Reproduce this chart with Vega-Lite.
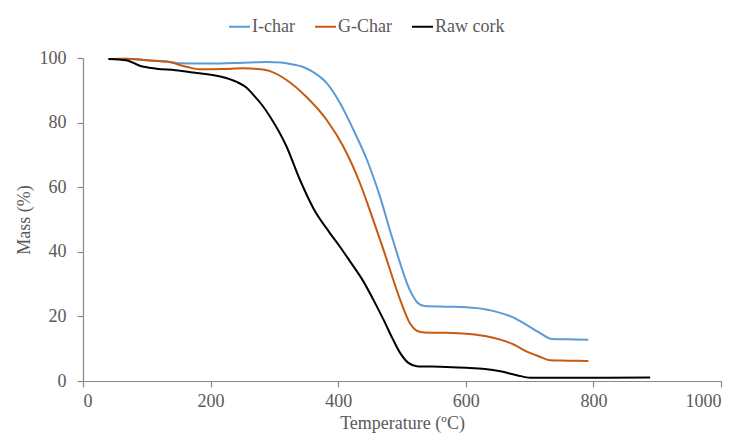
{
  "$schema": "https://vega.github.io/schema/vega-lite/v6.json",
  "width": 638,
  "height": 323,
  "autosize": "none",
  "padding": {"left": 83, "top": 58, "right": 20, "bottom": 60},
  "background": "white",
  "config": {
    "view": {"stroke": null},
    "font": "Liberation Serif",
    "axis": {"grid": false, "domainColor": "#898989", "tickColor": "#898989", "labelColor": "#595959", "titleColor": "#595959", "labelFont": "Liberation Serif", "titleFont": "Liberation Serif", "labelFontSize": 18, "titleFontSize": 18, "titleFontWeight": "normal", "tickSize": 6, "domainWidth": 1.2, "tickWidth": 1.2},
    "legend": {"labelFont": "Liberation Serif"}
  },
  "data": {"values": [
    {"s": "I-char", "t": 40, "m": 99.7},
    {"s": "I-char", "t": 68, "m": 99.8},
    {"s": "I-char", "t": 100, "m": 99.3},
    {"s": "I-char", "t": 131, "m": 98.9},
    {"s": "I-char", "t": 152, "m": 98.4},
    {"s": "I-char", "t": 190, "m": 98.3},
    {"s": "I-char", "t": 225, "m": 98.4},
    {"s": "I-char", "t": 260, "m": 98.6},
    {"s": "I-char", "t": 288, "m": 98.8},
    {"s": "I-char", "t": 310, "m": 98.6},
    {"s": "I-char", "t": 329, "m": 98.0},
    {"s": "I-char", "t": 345, "m": 97.2},
    {"s": "I-char", "t": 361, "m": 95.6},
    {"s": "I-char", "t": 382, "m": 92.2},
    {"s": "I-char", "t": 403, "m": 86.0},
    {"s": "I-char", "t": 424, "m": 77.7},
    {"s": "I-char", "t": 445, "m": 68.5},
    {"s": "I-char", "t": 464, "m": 58.0},
    {"s": "I-char", "t": 486, "m": 43.5},
    {"s": "I-char", "t": 512, "m": 28.3},
    {"s": "I-char", "t": 524, "m": 24.3},
    {"s": "I-char", "t": 535, "m": 23.2},
    {"s": "I-char", "t": 570, "m": 23.0},
    {"s": "I-char", "t": 601, "m": 22.8},
    {"s": "I-char", "t": 630, "m": 22.2},
    {"s": "I-char", "t": 654, "m": 21.1},
    {"s": "I-char", "t": 675, "m": 19.6},
    {"s": "I-char", "t": 690, "m": 18.0},
    {"s": "I-char", "t": 716, "m": 14.9},
    {"s": "I-char", "t": 735, "m": 13.0},
    {"s": "I-char", "t": 760, "m": 12.9},
    {"s": "I-char", "t": 792, "m": 12.8},
    {"s": "G-Char", "t": 40, "m": 99.7},
    {"s": "G-Char", "t": 68, "m": 99.8},
    {"s": "G-Char", "t": 100, "m": 99.3},
    {"s": "G-Char", "t": 131, "m": 98.9},
    {"s": "G-Char", "t": 162, "m": 97.3},
    {"s": "G-Char", "t": 183, "m": 96.5},
    {"s": "G-Char", "t": 220, "m": 96.6},
    {"s": "G-Char", "t": 251, "m": 96.8},
    {"s": "G-Char", "t": 275, "m": 96.6},
    {"s": "G-Char", "t": 292, "m": 96.0},
    {"s": "G-Char", "t": 319, "m": 93.2},
    {"s": "G-Char", "t": 350, "m": 88.0},
    {"s": "G-Char", "t": 382, "m": 80.8},
    {"s": "G-Char", "t": 408, "m": 72.6},
    {"s": "G-Char", "t": 434, "m": 61.3},
    {"s": "G-Char", "t": 452, "m": 51.5},
    {"s": "G-Char", "t": 471, "m": 40.6},
    {"s": "G-Char", "t": 497, "m": 25.2},
    {"s": "G-Char", "t": 512, "m": 18.0},
    {"s": "G-Char", "t": 523, "m": 15.6},
    {"s": "G-Char", "t": 535, "m": 15.0},
    {"s": "G-Char", "t": 570, "m": 14.9},
    {"s": "G-Char", "t": 601, "m": 14.6},
    {"s": "G-Char", "t": 630, "m": 13.9},
    {"s": "G-Char", "t": 654, "m": 12.8},
    {"s": "G-Char", "t": 675, "m": 11.3},
    {"s": "G-Char", "t": 695, "m": 9.2},
    {"s": "G-Char", "t": 715, "m": 7.6},
    {"s": "G-Char", "t": 732, "m": 6.4},
    {"s": "G-Char", "t": 760, "m": 6.3},
    {"s": "G-Char", "t": 792, "m": 6.2},
    {"s": "Raw cork", "t": 40, "m": 99.7},
    {"s": "Raw cork", "t": 68, "m": 99.3},
    {"s": "Raw cork", "t": 89, "m": 97.6},
    {"s": "Raw cork", "t": 115, "m": 96.7},
    {"s": "Raw cork", "t": 145, "m": 96.2},
    {"s": "Raw cork", "t": 173, "m": 95.5},
    {"s": "Raw cork", "t": 215, "m": 94.3},
    {"s": "Raw cork", "t": 241, "m": 92.6},
    {"s": "Raw cork", "t": 255, "m": 91.0},
    {"s": "Raw cork", "t": 267, "m": 88.6},
    {"s": "Raw cork", "t": 280, "m": 85.6},
    {"s": "Raw cork", "t": 293, "m": 81.9},
    {"s": "Raw cork", "t": 319, "m": 72.6},
    {"s": "Raw cork", "t": 340, "m": 62.3},
    {"s": "Raw cork", "t": 361, "m": 53.5},
    {"s": "Raw cork", "t": 387, "m": 45.8},
    {"s": "Raw cork", "t": 403, "m": 41.5},
    {"s": "Raw cork", "t": 418, "m": 37.2},
    {"s": "Raw cork", "t": 439, "m": 31.0},
    {"s": "Raw cork", "t": 455, "m": 25.2},
    {"s": "Raw cork", "t": 471, "m": 19.0},
    {"s": "Raw cork", "t": 485, "m": 13.2},
    {"s": "Raw cork", "t": 497, "m": 8.7},
    {"s": "Raw cork", "t": 510, "m": 5.6},
    {"s": "Raw cork", "t": 523, "m": 4.6},
    {"s": "Raw cork", "t": 560, "m": 4.4},
    {"s": "Raw cork", "t": 601, "m": 4.1},
    {"s": "Raw cork", "t": 630, "m": 3.7},
    {"s": "Raw cork", "t": 654, "m": 3.0},
    {"s": "Raw cork", "t": 680, "m": 1.8},
    {"s": "Raw cork", "t": 701, "m": 1.0},
    {"s": "Raw cork", "t": 760, "m": 1.0},
    {"s": "Raw cork", "t": 820, "m": 1.0},
    {"s": "Raw cork", "t": 889, "m": 1.1}
  ]},
  "mark": {"type": "line", "interpolate": "monotone", "strokeWidth": 2},
  "encoding": {
    "x": {"field": "t", "type": "quantitative", "title": "Temperature (ºC)", "scale": {"domain": [0, 1000], "nice": false}, "axis": {"values": [0, 200, 400, 600, 800, 1000], "format": "d", "labelPadding": 5, "titlePadding": 4, "labelFont": "Liberation Serif", "titleFont": "Liberation Serif"}},
    "y": {"field": "m", "type": "quantitative", "title": "Mass (%)", "scale": {"domain": [0, 100], "nice": false}, "axis": {"values": [0, 20, 40, 60, 80, 100], "labelPadding": 11, "titlePadding": 6, "labelFont": "Liberation Serif", "titleFont": "Liberation Serif"}},
    "color": {"field": "s", "type": "nominal", "sort": ["I-char", "G-Char", "Raw cork"], "scale": {"domain": ["I-char", "G-Char", "Raw cork"], "range": ["#5B9BD5", "#C55A11", "#000000"]},
      "legend": {"title": null, "orient": "none", "direction": "horizontal", "legendX": 145, "legendY": -43, "symbolType": "stroke", "symbolSize": 440, "symbolStrokeWidth": 2, "labelFontSize": 18, "labelColor": "#595959", "labelFont": "Liberation Serif", "columnPadding": 16, "labelOffset": 1}}
  }
}
